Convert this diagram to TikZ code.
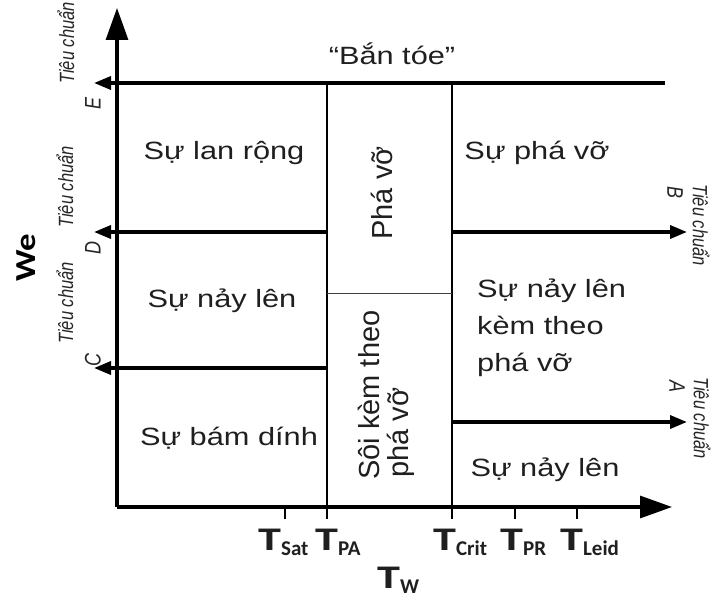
\documentclass[tikz,border=0pt]{standalone}
\usepackage{fontspec}
\setmainfont{Liberation Sans}
\newfontfamily\regionfont{Liberation Sans}[FakeStretch=1.23]
\newfontfamily\tempfont{Carlito}[FakeStretch=1.4]
\newfontfamily\indexfont{Carlito}
\usetikzlibrary{arrows.meta}

\tikzset{
  region/.style={font=\regionfont\fontsize{25}{37}\selectfont, inner sep=0pt, text=black!88},
  vregion/.style={font=\fontsize{29}{33}\selectfont, rotate=90, inner sep=0pt, text=black!88},
  critlabel/.style={font=\itshape\fontsize{16.5}{18}\selectfont, inner sep=0pt, text=black!85, xscale=1.25},
  critletter/.style={font=\itshape\fontsize{18}{18}\selectfont, inner sep=0pt, text=black!85, xscale=1.25},
  templabel/.style={inner sep=0pt, anchor=base west, text=black!88},
  axis/.style={line width=3.2pt, -{Triangle[length=32pt,width=22pt]}},
  critarrow/.style={line width=3.5pt, -{Triangle[length=17pt,width=13pt]}},
  divider/.style={line width=2.3pt},
  thinline/.style={line width=1pt, black!75},
  tickmark/.style={line width=2.5pt},
}

% temperature label: big T with a lowered index
\newcommand{\tlab}[2]{{\tempfont\bfseries\fontsize{33}{33}\selectfont T}{\indexfont\bfseries\fontsize{21}{21}\selectfont\raisebox{#1}{#2}}}

\begin{document}
\begin{tikzpicture}[x=1pt,y=1pt]
  \useasboundingbox (0,0) rectangle (711,-599);

  % --- key points ---
  \coordinate (O) at (117,-507);
  \coordinate (Ytop) at (117,-8);
  \coordinate (Xend) at (672,-507);
  \coordinate (PAtop) at (327,-83);
  \coordinate (PAbot) at (327,-519);
  \coordinate (CRtop) at (452,-83);
  \coordinate (CRbot) at (452,-519);
  \coordinate (Eright) at (665,-83);
  \coordinate (Eleft) at (94,-83);
  \coordinate (Dstart) at (327,-232);
  \coordinate (Dleft) at (94,-232);
  \coordinate (Cstart) at (327,-368);
  \coordinate (Cleft) at (94,-368);
  \coordinate (Bstart) at (452,-232);
  \coordinate (Bright) at (687,-232);
  \coordinate (Astart) at (452,-422);
  \coordinate (Aright) at (687,-422);
  \coordinate (Mleft) at (327,-293);
  \coordinate (Mright) at (452,-293);
  \coordinate (Sattop) at (285,-507);
  \coordinate (Satbot) at (285,-519);
  \coordinate (PRtop) at (515,-507);
  \coordinate (PRbot) at (515,-519);
  \coordinate (Leidtop) at (577,-507);
  \coordinate (Leidbot) at (577,-519);

  % --- regime boundaries ---
  \draw[divider] (PAtop) -- (PAbot);
  \draw[divider] (CRtop) -- (CRbot);
  \draw[thinline] (Mleft) -- (Mright);
  \draw[tickmark] (Sattop) -- (Satbot);
  \draw[tickmark] (PRtop) -- (PRbot);
  \draw[tickmark] (Leidtop) -- (Leidbot);

  % --- criteria ---
  \draw[critarrow] (Eright) -- (Eleft);
  \draw[critarrow] (Dstart) -- (Dleft);
  \draw[critarrow] (Cstart) -- (Cleft);
  \draw[critarrow] (Bstart) -- (Bright);
  \draw[critarrow] (Astart) -- (Aright);

  % --- axes ---
  \draw[axis] (O) -- (Ytop);
  \draw[axis] (O) -- (Xend);

  % --- regime names ---
  \node[region, anchor=base] (splash) at (392,-65) {“Bắn tóe”};
  \node[region, anchor=base] (spread) at (224,-159) {Sự lan rộng};
  \node[region, anchor=base] (breakup) at (537,-159) {Sự phá vỡ};
  \node[region, anchor=base] (reboundL) at (222,-307) {Sự nảy lên};
  \node[region, anchor=base] (deposit) at (229,-445) {Sự bám dính};
  \node[region, anchor=base west] (rb1) at (477,-297) {Sự nảy lên};
  \node[region, anchor=base west] (rb2) at (477,-334) {kèm theo};
  \node[region, anchor=base west] (rb3) at (477,-371) {phá vỡ};
  \node[region, anchor=base] (reboundR) at (545,-476) {Sự nảy lên};
  \node[vregion] (breakV) at (382,-193) {Phá vỡ};
  \node[vregion, anchor=base west] (boil1) at (379,-480) {Sôi kèm theo};
  \node[vregion, anchor=base west] (boil2) at (408,-478) {phá vỡ};

  % --- criterion labels ---
  \node[critlabel, rotate=90] (critE) at (66,-43) {Tiêu chuẩn};
  \node[critletter, rotate=90] (letE) at (93,-103) {E};
  \node[critlabel, rotate=90] (critD) at (65,-187) {Tiêu chuẩn};
  \node[critletter, rotate=90] (letD) at (93,-248) {D};
  \node[critlabel, rotate=90] (critC) at (65,-303) {Tiêu chuẩn};
  \node[critletter, rotate=90] (letC) at (93,-360) {C};
  \node[critlabel, rotate=-90] (critB) at (701,-225) {Tiêu chuẩn};
  \node[critletter, rotate=-90] (letB) at (675,-193) {B};
  \node[critlabel, rotate=-90] (critA) at (702,-418) {Tiêu chuẩn};
  \node[critletter, rotate=-90] (letA) at (677,-386) {A};

  % --- axis labels ---
  \node[rotate=90, xscale=1.2, inner sep=0pt, font=\indexfont\bfseries\fontsize{29}{29}\selectfont] (We) at (26,-258) {We};
  \node[templabel] (tsat) at (258,-550) {\tlab{-5pt}{Sat}};
  \node[templabel] (tpa) at (315,-550) {\tlab{-5pt}{PA}};
  \node[templabel] (tcrit) at (433,-550) {\tlab{-5pt}{Crit}};
  \node[templabel] (tpr) at (500,-550) {\tlab{-5pt}{PR}};
  \node[templabel] (tleid) at (560,-550) {\tlab{-5pt}{Leid}};
  \node[templabel] (tw) at (377,-588) {\tlab{-5pt}{W}};
\end{tikzpicture}
\end{document}
